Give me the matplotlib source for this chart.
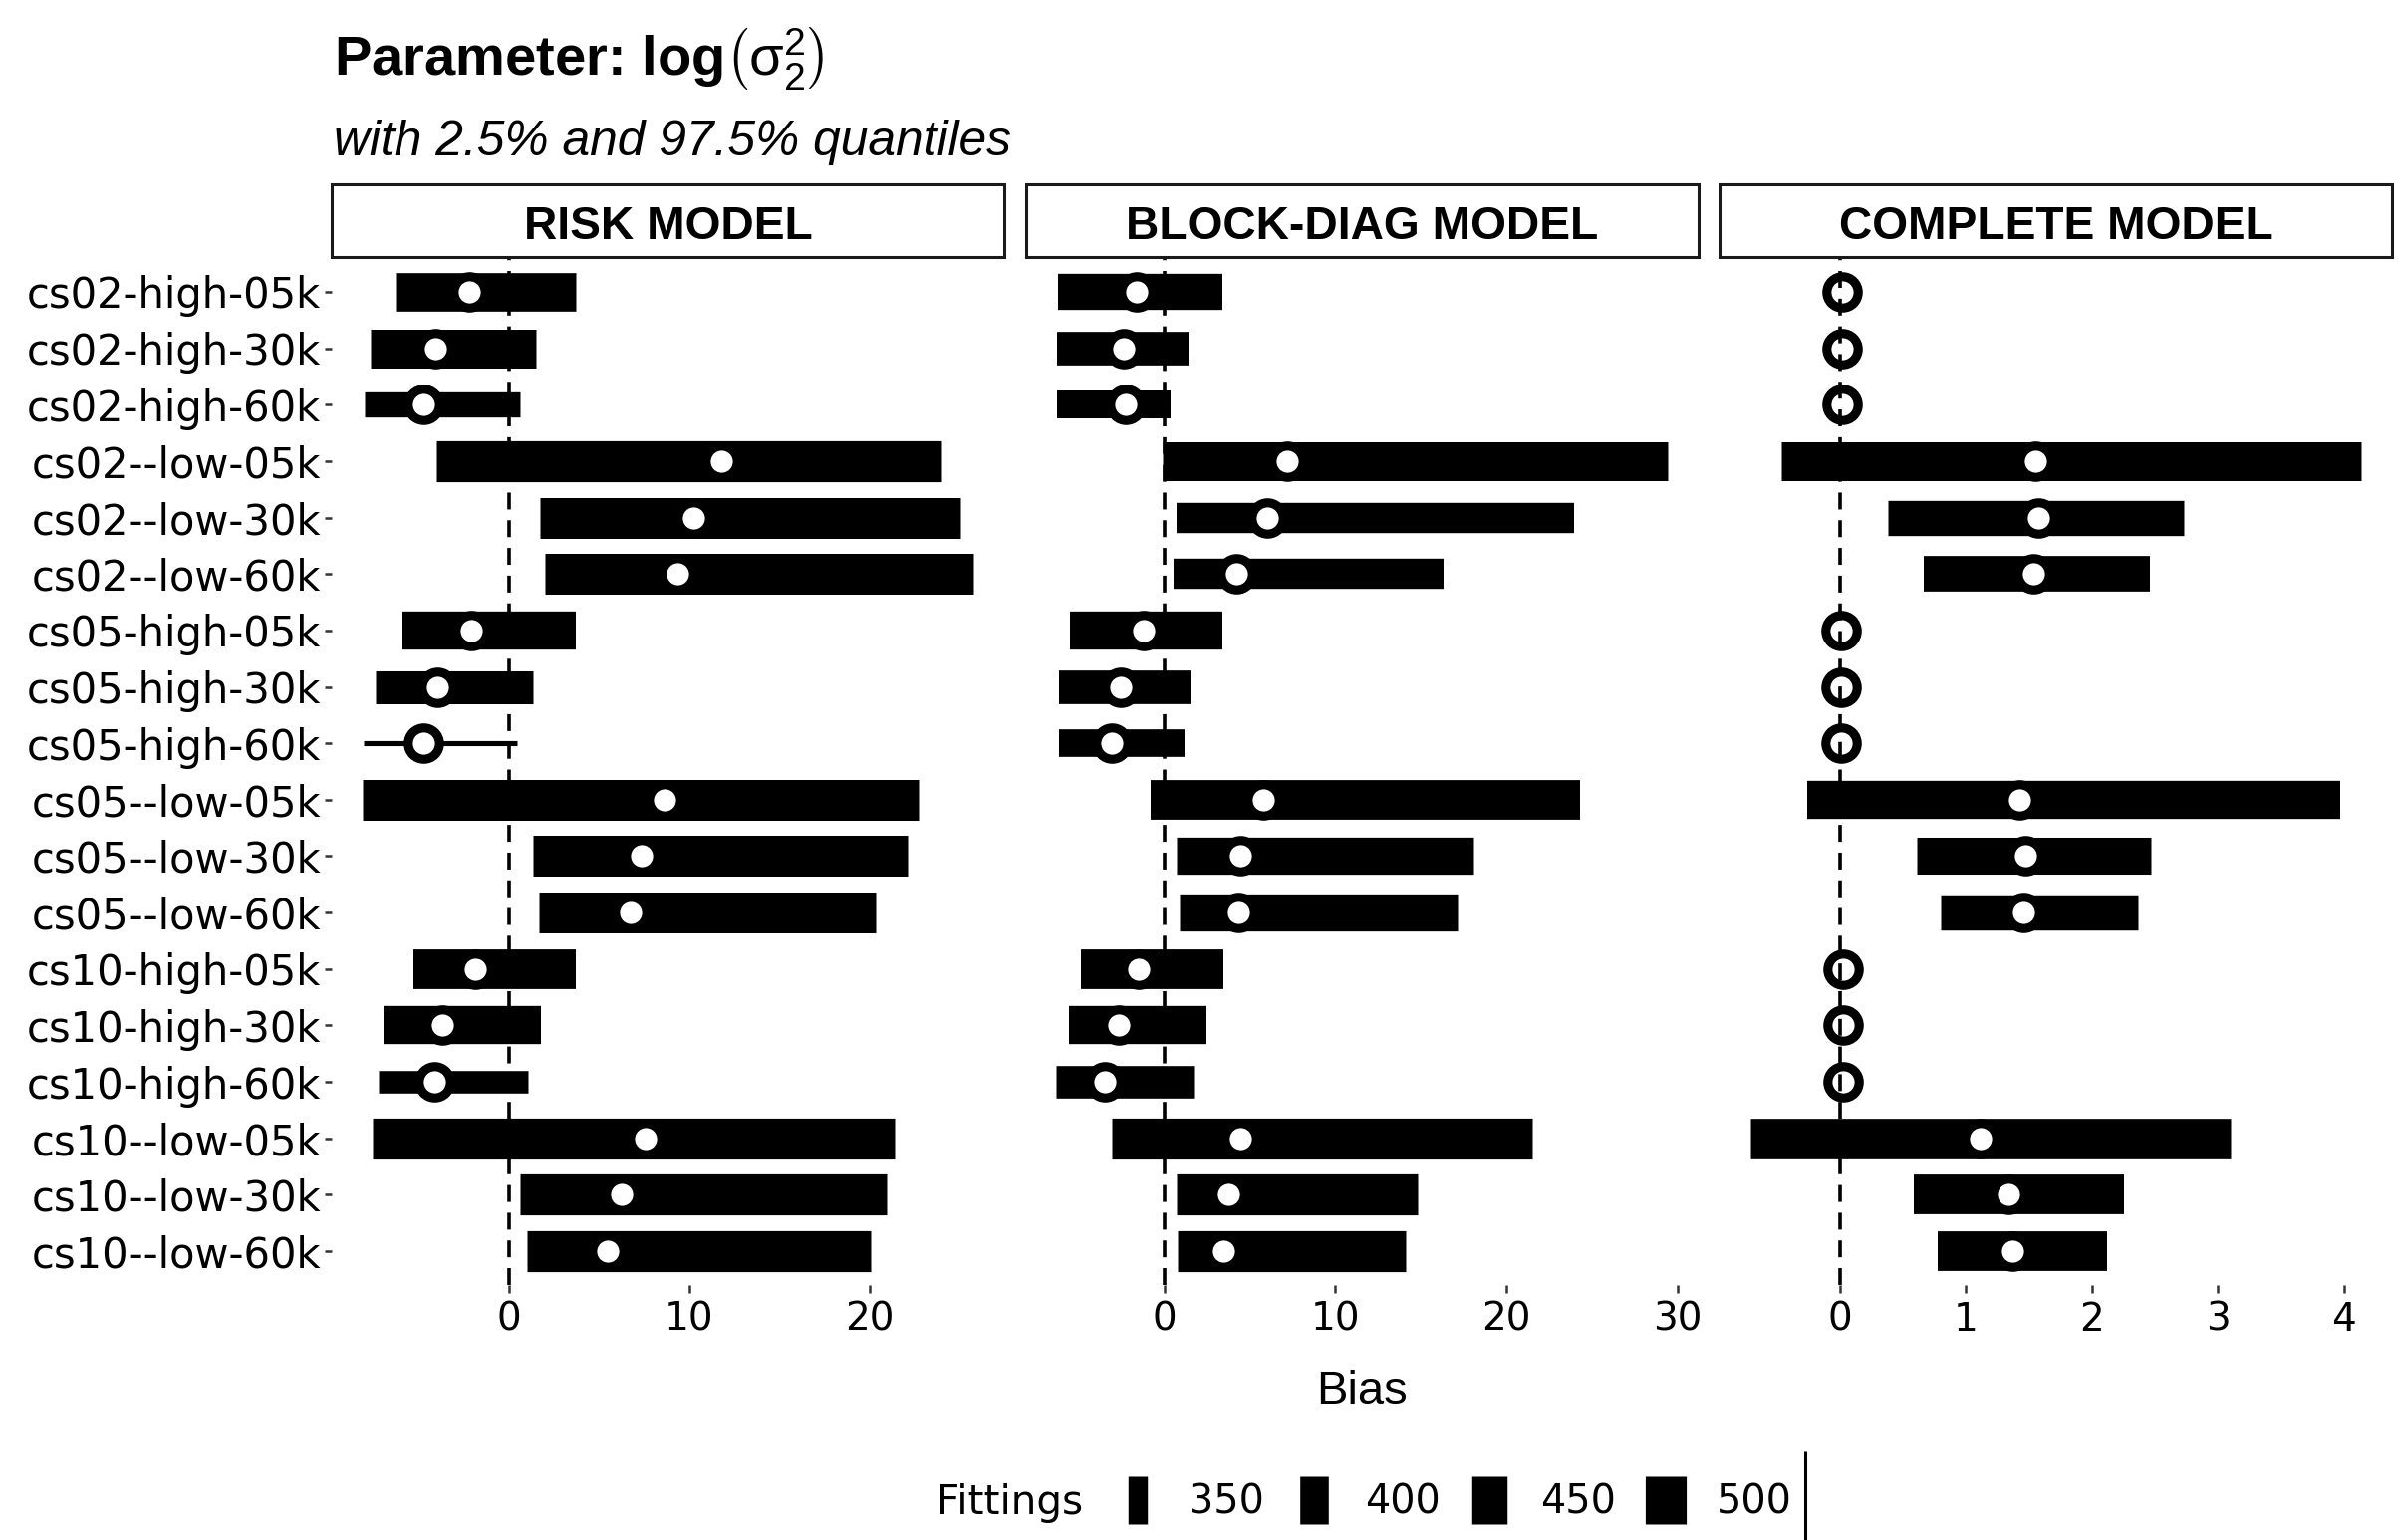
import numpy as np
import matplotlib
matplotlib.use("Agg")
import matplotlib.pyplot as plt
from matplotlib.ticker import MultipleLocator
from matplotlib.patches import Rectangle

# ---------------- data ----------------
categories = [
    "cs02-high-05k", "cs02-high-30k", "cs02-high-60k",
    "cs02--low-05k", "cs02--low-30k", "cs02--low-60k",
    "cs05-high-05k", "cs05-high-30k", "cs05-high-60k",
    "cs05--low-05k", "cs05--low-30k", "cs05--low-60k",
    "cs10-high-05k", "cs10-high-30k", "cs10-high-60k",
    "cs10--low-05k", "cs10--low-30k", "cs10--low-60k",
]
models = ["RISK MODEL", "BLOCK-DIAG MODEL", "COMPLETE MODEL"]

risk_lo = [-6.28, -7.68, -7.98, -4.01, 1.72, 2.02, -5.91, -7.39, -8.05,
           -8.13, 1.31, 1.67, -5.32, -6.95, -7.24, -7.54, 0.64, 1.01]
risk_hi = [3.72, 1.50, 0.59, 23.99, 25.02, 25.76, 3.69, 1.35, 0.44,
           22.68, 22.12, 20.32, 3.72, 1.80, 1.06, 21.38, 20.94, 20.05]
risk_est = [-2.22, -4.06, -4.73, 11.77, 10.25, 9.33, -2.07, -3.99, -4.73,
            8.62, 7.36, 6.72, -1.85, -3.67, -4.11, 7.59, 6.23, 5.49]
risk_fit = [477, 480, 380, 500, 498, 498, 474, 431, 310,
            498, 498, 498, 487, 474, 365, 500, 500, 500]

block_lo = [-6.18, -6.28, -6.28, -0.10, 0.73, 0.57, -5.50, -6.12, -6.12,
            -0.81, 0.73, 0.90, -4.87, -5.58, -6.31, -3.08, 0.73, 0.81]
block_hi = [3.41, 1.41, 0.39, 29.42, 23.98, 16.34, 3.41, 1.54, 1.20,
            24.29, 18.06, 17.13, 3.44, 2.50, 1.72, 21.50, 14.80, 14.10]
block_est = [-1.62, -2.35, -2.22, 7.17, 6.05, 4.20, -1.22, -2.55, -3.05,
             5.79, 4.43, 4.34, -1.49, -2.66, -3.44, 4.48, 3.78, 3.44]
block_fit = [457, 436, 396, 480, 412, 412, 474, 436, 394,
             487, 465, 465, 487, 474, 428, 500, 500, 500]

complete_lo = [0.02, 0.02, 0.02, -0.46, 0.38, 0.67, 0.01, 0.01, 0.01,
               -0.26, 0.61, 0.80, 0.03, 0.03, 0.03, -0.71, 0.59, 0.78]
complete_hi = [0.02, 0.02, 0.02, 4.14, 2.73, 2.46, 0.01, 0.01, 0.01,
               3.97, 2.47, 2.37, 0.03, 0.03, 0.03, 3.10, 2.26, 2.12]
complete_est = [0.02, 0.02, 0.02, 1.55, 1.58, 1.54, 0.01, 0.01, 0.01,
                1.43, 1.47, 1.46, 0.03, 0.03, 0.03, 1.12, 1.34, 1.37]
complete_fit = [500, 500, 500, 480, 449, 452, 500, 500, 500,
                474, 463, 450, 500, 500, 500, 495, 487, 487]

legend_breaks = [350, 400, 450, 500]
x_tick_steps = [10, 10, 1]

# ---------------- style ----------------
W, H, DPI = 2409, 1546, 200
plt.rcParams["font.family"] = ["DejaVu Sans"]
plt.rcParams["mathtext.fontset"] = "custom"
plt.rcParams["mathtext.rm"] = "Liberation Sans"
plt.rcParams["mathtext.it"] = "Liberation Sans:italic"
plt.rcParams["mathtext.bf"] = "Liberation Sans:bold"


def px2pt(px):
    return px * 72.0 / DPI


def fit_lw(f):
    f = np.asarray(f, dtype=float)
    return px2pt(41.2 * np.sqrt(np.clip((f - 307.0) / 193.0, 0, None)))


fig = plt.figure(figsize=(W / DPI, H / DPI), dpi=DPI)
fig.patch.set_facecolor("white")

panel_data = [
    (risk_lo, risk_hi, risk_est, risk_fit),
    (block_lo, block_hi, block_est, block_fit),
    (complete_lo, complete_hi, complete_est, complete_fit),
]

left0, pw, gap = 333.0, 675.0, 21.5
top, bot = 259.0, 1290.0
ph = bot - top
ypos = np.arange(len(categories))

for i, (name, (lo, hi, est, fit)) in enumerate(zip(models, panel_data)):
    x0 = left0 + i * (pw + gap)
    ax = fig.add_axes([x0 / W, 1 - bot / H, pw / W, ph / H])
    ax.hlines(ypos, lo, hi, colors="black", linewidths=fit_lw(fit),
              capstyle="butt", zorder=2)
    ax.plot(est, ypos, "o", ms=11.3, mfc="white", mec="black", mew=3.3,
            zorder=3, linestyle="none")
    ax.axvline(0, color="black", lw=1.3, dashes=(4.7, 3.0), zorder=4)

    lo_all = min(min(lo), min(est))
    hi_all = max(max(hi), max(est))
    rng = hi_all - lo_all
    ax.set_xlim(lo_all - 0.05 * rng, hi_all + 0.05 * rng)
    ax.set_ylim(len(categories) - 0.4, -0.6)
    ax.xaxis.set_major_locator(MultipleLocator(x_tick_steps[i]))
    for s in ax.spines.values():
        s.set_visible(False)
    ax.tick_params(axis="x", length=px2pt(8), width=px2pt(2.5), color="#333333",
                   labelsize=14, pad=px2pt(8), labelcolor="black")
    if i == 0:
        ax.set_yticks(ypos)
        ax.set_yticklabels(categories)
        ax.tick_params(axis="y", length=px2pt(7), width=px2pt(2.5), color="#333333",
                       labelsize=15, pad=px2pt(4), labelcolor="black")
    else:
        ax.set_yticks([])
    # strip
    sb = 1 + (top - 258.0) / ph
    st = 1 + (top - 185.0) / ph
    ax.add_patch(Rectangle((0, sb), 1, st - sb, transform=ax.transAxes,
                           clip_on=False, facecolor="white", edgecolor="#1a1a1a",
                           lw=1.1, zorder=5))
    ax.text(0.5, 1 + (top - 240.0) / ph, name, transform=ax.transAxes,
            ha="center", va="baseline", fontfamily="Liberation Sans",
            fontweight="bold", fontsize=16.6, zorder=6)

# titles
fig.text(335 / W, 1 - 76 / H, r"Parameter: log$\left(\mathrm{\sigma}_2^2\right)$",
         fontfamily="Liberation Sans", fontweight="bold", fontsize=20.2,
         va="baseline", ha="left")
fig.text(335 / W, 1 - 156 / H, "with 2.5% and 97.5% quantiles",
         fontfamily="Liberation Sans", style="italic", fontsize=17.9,
         va="baseline", ha="left")

# axis title
fig.text((left0 + (3 * pw + 2 * gap) / 2) / W, 1 - 1397 / H, "Bias",
         fontfamily="Liberation Sans", fontsize=17, ha="center", va="center")

# legend (overlay axes in pixel units)
lax = fig.add_axes([0, 0, 1, 1], zorder=10)
lax.set_xlim(0, W)
lax.set_ylim(H, 0)
lax.axis("off")
lax.text(940, 1509, "Fittings", fontsize=14.6, ha="left", va="center")
key_x = 1142 + 176.7 * np.arange(len(legend_breaks))
lax.vlines(key_x, 1482, 1530, colors="black", linewidths=fit_lw(legend_breaks),
           capstyle="butt")
for kx, b in zip(key_x, legend_breaks):
    lax.text(kx + 89, 1509, str(b), fontsize=14.3, ha="center", va="center")
lax.vlines([1812], 1457, 1546, colors="black", linewidths=1.1)

fig.savefig("out.png", dpi=DPI, facecolor="white")
